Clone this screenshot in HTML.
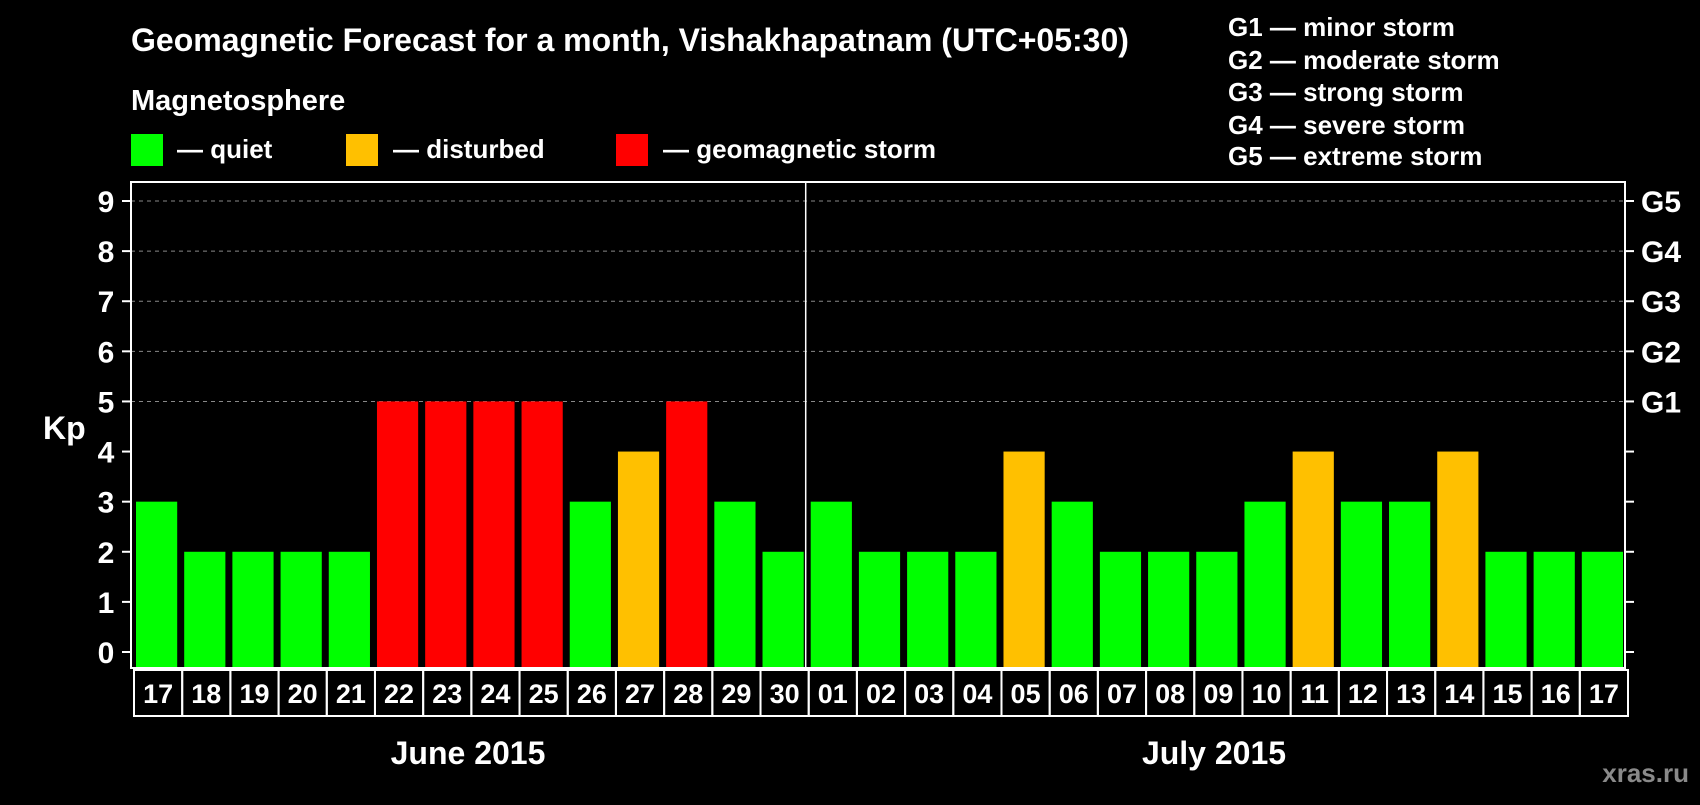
<!DOCTYPE html>
<html><head><meta charset="utf-8"><style>
body{margin:0;background:#000;width:1700px;height:800px;overflow:hidden;font-family:"Liberation Sans",sans-serif;}
svg text{font-family:"Liberation Sans",sans-serif;font-weight:bold;fill:#fff;}
</style></head><body>
<svg id="chart" width="1700" height="800">
<text x="131" y="51" font-size="32">Geomagnetic Forecast for a month, Vishakhapatnam (UTC+05:30)</text>
<text x="131" y="110" font-size="29">Magnetosphere</text>
<rect x="131" y="134" width="32" height="32" fill="#00ff00"/>
<text x="177" y="158" font-size="26">— quiet</text>
<rect x="346" y="134" width="32" height="32" fill="#ffc000"/>
<text x="393" y="158" font-size="26">— disturbed</text>
<rect x="616" y="134" width="32" height="32" fill="#ff0000"/>
<text x="663" y="158" font-size="26">— geomagnetic storm</text>
<g font-size="26">
<text x="1228" y="36">G1 — minor storm</text>
<text x="1228" y="69">G2 — moderate storm</text>
<text x="1228" y="101">G3 — strong storm</text>
<text x="1228" y="134">G4 — severe storm</text>
<text x="1228" y="165">G5 — extreme storm</text>
</g>
<text x="43" y="439" font-size="32">Kp</text>
<text x="468" y="764" font-size="32" text-anchor="middle">June 2015</text>
<text x="1214" y="764" font-size="32" text-anchor="middle">July 2015</text>
<text x="1689" y="782" font-size="26" text-anchor="end" style="fill:#8a8a8a">xras.ru</text>
<g id="grid"></g><g id="bars"></g><g id="axes"></g>
</svg>
<script>
const days=["17","18","19","20","21","22","23","24","25","26","27","28","29","30","01","02","03","04","05","06","07","08","09","10","11","12","13","14","15","16","17"];
const kp=[3,2,2,2,2,5,5,5,5,3,4,5,3,2,3,2,2,2,4,3,2,2,2,3,4,3,3,4,2,2,2];
const yTicks=[0,1,2,3,4,5,6,7,8,9];
const gLabels=["G1","G2","G3","G4","G5"];
const NS="http://www.w3.org/2000/svg";
const L=131,R=1625,T=182,B=668;
const pitch=(R-L)/days.length;
const y=v=>652-v*(451/9);
const x=i=>L+i*pitch;
function mk(tag,attrs,parent){const e=document.createElementNS(NS,tag);for(const k in attrs)e.setAttribute(k,attrs[k]);parent.appendChild(e);return e;}
const grid=document.getElementById('grid'),bars=document.getElementById('bars'),axes=document.getElementById('axes');
yTicks.forEach(v=>{
  if(v>=5){const gl=mk('line',{x1:L,x2:R,y1:y(v),y2:y(v),stroke:'#888','stroke-dasharray':'4,4','stroke-width':1},grid);
  
  }
  const t1=mk('line',{x1:L-9,x2:L,y1:y(v),y2:y(v),stroke:'#fff','stroke-width':2},axes);
  
  
  const t2=mk('line',{x1:R,x2:R+9,y1:y(v),y2:y(v),stroke:'#fff','stroke-width':2},axes);
  
  
  const lb=mk('text',{x:106,y:y(v)+11,'font-size':30,'text-anchor':'middle'},axes);lb.textContent=v;
  
  
});
gLabels.forEach((g,i)=>{const t=mk('text',{x:1641,y:y(5+i)+11,'font-size':30},axes);t.textContent=g;
  
  });
kp.forEach((v,i)=>{
  const c=v>=5?'#ff0000':v>=4?'#ffc000':'#00ff00';
  const r=mk('rect',{x:x(i)+5,y:y(v),width:pitch-7,height:B-1-y(v),fill:c},bars);
  
  
  const cell=mk('rect',{x:x(i)+3,y:670,width:pitch,height:46,fill:'none',stroke:'#fff','stroke-width':2},axes);
  
  
  const t=mk('text',{x:x(i)+3+pitch/2,y:703,'font-size':27,'text-anchor':'middle'},axes);t.textContent=days[i];
  
  
});
const frame=mk('rect',{x:L,y:T,width:R-L,height:B-T,fill:'none',stroke:'#fff','stroke-width':2},axes);


const sep=mk('line',{x1:x(14),x2:x(14),y1:T,y2:B,stroke:'#fff','stroke-width':1.5},axes);


</script>
</body></html>
